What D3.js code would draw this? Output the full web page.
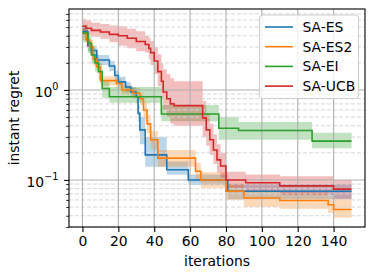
<!DOCTYPE html>
<html>
<head>
<meta charset="utf-8">
<script src="https://cdn.jsdelivr.net/npm/d3@7"></script>
<style>
body { margin: 0; background: #fff; }
svg { display: block; }
text { font-family: "DejaVu Sans", sans-serif; }
</style>
</head>
<body>
<div id="chart"></div>
<script>
var seriesNames = ["SA-ES", "SA-ES2", "SA-EI", "SA-UCB"];
var seriesColors = ["#1f77b4", "#ff7f0e", "#2ca02c", "#d62728"];
var xTickValues = [0, 20, 40, 60, 80, 100, 120, 140];
var yMajorValues = [0.1, 1];
var yMajorLabels = [["10", "\u22121"], ["10", "0"]];

// SA-ES (blue)
var esIter = [0, 3, 5, 8, 15, 18, 20, 24, 27, 30, 31, 32, 35, 47, 59, 81, 150];
var esMean = [4.45, 3.1, 2.75, 2.15, 1.85, 1.45, 1.23, 1.08, 0.95, 0.84, 0.55, 0.36, 0.19, 0.13, 0.1, 0.075, 0.075];
var esLo   = [3.9, 2.7, 2.4, 1.9, 1.62, 1.27, 1.08, 0.95, 0.84, 0.72, 0.44, 0.25, 0.14, 0.114, 0.088, 0.061, 0.061];
var esHi   = [5.0, 3.5, 3.1, 2.45, 2.1, 1.65, 1.4, 1.22, 1.07, 0.96, 0.68, 0.5, 0.3, 0.16, 0.115, 0.09, 0.09];

// SA-ES2 (orange)
var es2Iter = [0, 2, 4, 6, 8, 10, 19, 22, 28, 32, 34, 36, 38, 42, 63, 66, 80, 90, 110, 137, 140, 150];
var es2Mean = [4.3, 3.6, 3.0, 2.2, 1.8, 1.27, 1.18, 1.0, 0.92, 0.8, 0.6, 0.42, 0.28, 0.175, 0.125, 0.1, 0.075, 0.063, 0.059, 0.053, 0.047, 0.047];
var es2Lo   = [3.6, 3.0, 2.5, 1.85, 1.55, 1.12, 1.04, 0.88, 0.8, 0.68, 0.48, 0.33, 0.22, 0.14, 0.1, 0.082, 0.06, 0.05, 0.048, 0.043, 0.038, 0.038];
var es2Hi   = [5.1, 4.3, 3.6, 2.6, 2.1, 1.42, 1.32, 1.13, 1.05, 0.93, 0.74, 0.53, 0.35, 0.215, 0.155, 0.122, 0.092, 0.077, 0.073, 0.066, 0.062, 0.062];

// SA-EI (green)
var eiIter = [0, 3, 5, 7, 9, 11, 15, 44, 76, 87, 128, 150];
var eiMean = [4.3, 3.3, 2.45, 2.0, 1.6, 1.04, 0.84, 0.54, 0.375, 0.355, 0.27, 0.27];
var eiLo   = [3.4, 2.6, 1.95, 1.6, 1.3, 0.82, 0.72, 0.45, 0.28, 0.28, 0.225, 0.225];
var eiHi   = [5.3, 4.1, 3.1, 2.5, 2.0, 1.25, 1.08, 0.68, 0.5, 0.44, 0.335, 0.335];

// SA-UCB (red)
var ucbIter = [0, 2, 5, 10, 15, 20, 25, 30, 35, 37, 38, 40, 42, 44, 45, 47, 49, 51, 67, 69, 71, 73, 75, 77, 80, 91, 110, 140, 150];
var ucbMean = [5.1, 4.85, 4.6, 4.4, 4.15, 4.0, 3.75, 3.45, 3.2, 2.9, 2.6, 2.1, 1.6, 1.25, 0.95, 0.8, 0.7, 0.67, 0.49, 0.36, 0.28, 0.215, 0.167, 0.143, 0.1, 0.093, 0.086, 0.079, 0.079];
var ucbLo   = [4.3, 4.1, 3.9, 3.7, 3.4, 3.1, 2.9, 2.7, 2.6, 2.2, 1.9, 1.5, 1.1, 0.8, 0.6, 0.5, 0.42, 0.4, 0.3, 0.24, 0.19, 0.15, 0.12, 0.105, 0.081, 0.075, 0.068, 0.062, 0.062];
var ucbHi   = [6.2, 5.9, 5.6, 5.4, 5.2, 5.1, 4.8, 4.5, 4.0, 3.8, 3.5, 3.0, 2.5, 2.0, 1.7, 1.5, 1.35, 1.25, 0.75, 0.55, 0.42, 0.32, 0.25, 0.2, 0.123, 0.115, 0.11, 0.1, 0.1];

var width = 375, height = 278;
var plot = { left: 69, right: 365, top: 9, bottom: 227 };

function makeRows(iter, mean, lo, hi) {
	var rows = [];
	for (var i = 0; i < iter.length; i++) {
		rows.push({ t: iter[i], m: mean[i], lo: lo[i], hi: hi[i] });
	}
	return rows;
}

var series = [
	{ name: seriesNames[0], color: seriesColors[0], rows: makeRows(esIter, esMean, esLo, esHi) },
	{ name: seriesNames[1], color: seriesColors[1], rows: makeRows(es2Iter, es2Mean, es2Lo, es2Hi) },
	{ name: seriesNames[2], color: seriesColors[2], rows: makeRows(eiIter, eiMean, eiLo, eiHi) },
	{ name: seriesNames[3], color: seriesColors[3], rows: makeRows(ucbIter, ucbMean, ucbLo, ucbHi) }
];

var x = d3.scaleLinear().domain([-7.5, 157.5]).range([plot.left, plot.right]);
var y = d3.scaleLog().domain([0.0300, 7.94]).range([plot.bottom, plot.top]);

var svg = d3.select("#chart").append("svg")
	.attr("width", width)
	.attr("height", height);

svg.append("rect").attr("width", width).attr("height", height).attr("fill", "#fff");

var area = d3.area()
	.curve(d3.curveStepAfter)
	.x(function(d) { return x(d.t); })
	.y0(function(d) { return y(d.lo); })
	.y1(function(d) { return y(d.hi); });

var line = d3.line()
	.curve(d3.curveStepAfter)
	.x(function(d) { return x(d.t); })
	.y(function(d) { return y(d.m); });

// bands first (they sit below the grid like matplotlib's fill_between)
svg.append("g").selectAll("path")
	.data(series)
	.enter().append("path")
	.attr("d", function(d) { return area(d.rows); })
	.attr("fill", function(d) { return d.color; })
	.attr("fill-opacity", 0.3);

// grid
var minorTicks = y.ticks().filter(function(v) {
	var l = Math.log10(v);
	return Math.abs(l - Math.round(l)) > 1e-6;
});
var grid = svg.append("g");
grid.selectAll("line.minor")
	.data(minorTicks)
	.enter().append("line")
	.attr("x1", plot.left).attr("x2", plot.right)
	.attr("y1", function(d) { return y(d); })
	.attr("y2", function(d) { return y(d); })
	.attr("stroke", "#d6d6d6")
	.attr("stroke-width", 1)
	.attr("stroke-dasharray", "4,2");
grid.selectAll("line.ymaj")
	.data(yMajorValues)
	.enter().append("line")
	.attr("x1", plot.left).attr("x2", plot.right)
	.attr("y1", function(d) { return y(d); })
	.attr("y2", function(d) { return y(d); })
	.attr("stroke", "#b0b0b0")
	.attr("stroke-width", 1.1);
grid.selectAll("line.xmaj")
	.data(xTickValues)
	.enter().append("line")
	.attr("y1", plot.top).attr("y2", plot.bottom)
	.attr("x1", function(d) { return x(d); })
	.attr("x2", function(d) { return x(d); })
	.attr("stroke", "#b0b0b0")
	.attr("stroke-width", 1.1);

// mean lines
svg.append("g").selectAll("path")
	.data(series)
	.enter().append("path")
	.attr("d", function(d) { return line(d.rows); })
	.attr("fill", "none")
	.attr("stroke", function(d) { return d.color; })
	.attr("stroke-width", 1.6);

// frame
svg.append("rect")
	.attr("x", plot.left).attr("y", plot.top)
	.attr("width", plot.right - plot.left)
	.attr("height", plot.bottom - plot.top)
	.attr("fill", "none")
	.attr("stroke", "#000")
	.attr("stroke-width", 1.1);

// x axis
var xAxis = d3.axisBottom(x).tickValues(xTickValues).tickSize(4.9).tickPadding(4).tickFormat(d3.format("d"));
var gx = svg.append("g").attr("transform", "translate(0," + plot.bottom + ")").call(xAxis);
gx.select(".domain").remove();
gx.selectAll(".tick line").attr("stroke-width", 1.1);
gx.selectAll(".tick text")
	.attr("font-size", 13.9)
	.attr("font-family", "DejaVu Sans")
	.attr("fill", "#000");

// y axis ticks (minor + major) done with the library axis, labels drawn by hand for superscripts
var yMinorAxis = d3.axisLeft(y).tickValues(minorTicks).tickSize(2.8).tickFormat("");
var gym = svg.append("g").attr("transform", "translate(" + plot.left + ",0)").call(yMinorAxis);
gym.select(".domain").remove();
gym.selectAll(".tick line").attr("stroke-width", 0.85);

var yAxis = d3.axisLeft(y).tickValues(yMajorValues).tickSize(4.9).tickFormat("");
var gy = svg.append("g").attr("transform", "translate(" + plot.left + ",0)").call(yAxis);
gy.select(".domain").remove();
gy.selectAll(".tick line").attr("stroke-width", 1.1);

var ylab = svg.append("g").selectAll("text")
	.data(yMajorValues)
	.enter().append("text")
	.attr("x", plot.left - 10.5)
	.attr("y", function(d) { return y(d) + 6.6; })
	.attr("text-anchor", "end")
	.attr("font-size", 13.9)
	.attr("fill", "#000");
ylab.append("tspan").text(function(d, i) { return yMajorLabels[i][0]; });
ylab.append("tspan")
	.attr("dy", -6.3)
	.attr("font-size", 9.7)
	.text(function(d, i) { return yMajorLabels[i][1]; });

// axis labels
svg.append("text")
	.attr("x", (plot.left + plot.right) / 2)
	.attr("y", 265.5)
	.attr("text-anchor", "middle")
	.attr("font-size", 13.9)
	.text("iterations");

svg.append("text")
	.attr("transform", "translate(19," + ((plot.top + plot.bottom) / 2) + ") rotate(-90)")
	.attr("text-anchor", "middle")
	.attr("font-size", 13.9)
	.text("instant regret");

// legend
var legend = svg.append("g");
legend.append("rect")
	.attr("x", 259.5).attr("y", 15)
	.attr("width", 99).attr("height", 83.5)
	.attr("rx", 3).attr("ry", 3)
	.attr("fill", "#fff").attr("fill-opacity", 0.8)
	.attr("stroke", "#cccccc").attr("stroke-width", 1);

var items = legend.selectAll("g.item")
	.data(series)
	.enter().append("g")
	.attr("transform", function(d, i) { return "translate(0," + (27 + i * 19.7) + ")"; });
items.append("line")
	.attr("x1", 265).attr("x2", 293)
	.attr("y1", 0).attr("y2", 0)
	.attr("stroke", function(d) { return d.color; })
	.attr("stroke-width", 1.6);
items.append("text")
	.attr("x", 302.5)
	.attr("y", 5)
	.attr("font-size", 13.9)
	.text(function(d) { return d.name; });
</script>
</body>
</html>
